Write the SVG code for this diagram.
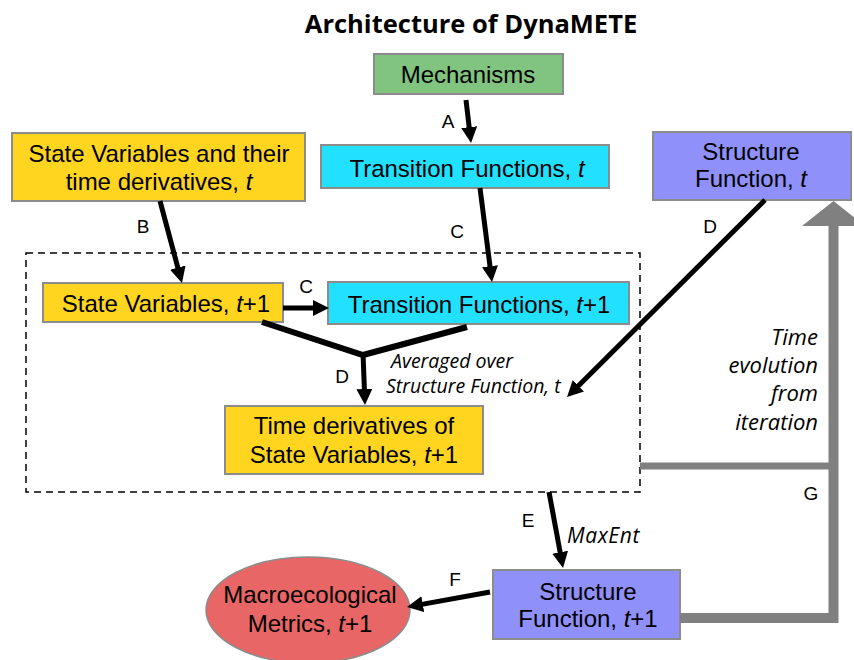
<svg xmlns="http://www.w3.org/2000/svg" width="854" height="660" viewBox="0 0 854 660">
<style>
.box{stroke:#8c8c8c;stroke-width:2}
.nt{font-family:"Liberation Sans",Arial,sans-serif;font-size:24px;fill:#000;text-anchor:middle}
.lbl{font-family:"Liberation Sans",Arial,sans-serif;font-size:19px;fill:#000;text-anchor:middle}
.ann{font-family:"Open Sans",sans-serif;font-style:italic;fill:#000}
.i{font-style:italic}
.arr{stroke:#000;stroke-width:5;fill:none;marker-end:url(#ah)}
.gray{stroke:#808080;fill:none}
</style>
<defs>
<marker id="ah" viewBox="0 0 10 10" refX="5" refY="5" markerWidth="16" markerHeight="16" markerUnits="userSpaceOnUse" orient="auto">
<path d="M0,0 L10,5 L0,10 z" fill="#000"/>
</marker>
</defs>
<rect width="854" height="660" fill="#fff"/>
<text x="471" y="33" font-family="'Open Sans',sans-serif" font-weight="bold" font-size="25.5" text-anchor="middle">Architecture of DynaMETE</text>

<g id="dashed-box">
<rect x="26" y="253" width="614" height="239" fill="none" stroke="#000" stroke-width="1.5" stroke-dasharray="7,5"/>
</g>

<g id="mechanisms">
<rect class="box" x="374" y="54" width="189" height="40" fill="#80c480"/>
<text class="nt" x="468" y="83" font-size="22">Mechanisms</text>
</g>
<g id="transition-t">
<rect class="box" x="321" y="145" width="288" height="43" fill="#22e0ff"/>
<text class="nt" x="467" y="177">Transition Functions, <tspan class="i">t</tspan></text>
</g>
<g id="state-t">
<rect class="box" x="12" y="133" width="293" height="68" fill="#ffd520"/>
<text class="nt" x="159" y="162">State Variables and their</text>
<text class="nt" x="159" y="190">time derivatives, <tspan class="i">t</tspan></text>
</g>
<g id="structure-t">
<rect class="box" x="653" y="132" width="198" height="68" fill="#9090fa"/>
<text class="nt" x="751" y="160">Structure</text>
<text class="nt" x="751" y="187">Function, <tspan class="i">t</tspan></text>
</g>
<g id="state-t1">
<rect class="box" x="43" y="283" width="240" height="39" fill="#ffd520"/>
<text class="nt" x="166" y="312">State Variables, <tspan class="i">t</tspan>+1</text>
</g>
<g id="transition-t1">
<rect class="box" x="328" y="282" width="301" height="42" fill="#22e0ff"/>
<text class="nt" x="479" y="313">Transition Functions, <tspan class="i">t</tspan>+1</text>
</g>
<g id="timederiv-t1">
<rect class="box" x="225" y="406" width="258" height="68" fill="#ffd520"/>
<text class="nt" x="354" y="434">Time derivatives of</text>
<text class="nt" x="354" y="463">State Variables, <tspan class="i">t</tspan>+1</text>
</g>
<g id="structure-t1">
<rect class="box" x="493" y="570" width="187" height="69" fill="#9090fa"/>
<text class="nt" x="588" y="600">Structure</text>
<text class="nt" x="588" y="627">Function, <tspan class="i">t</tspan>+1</text>
</g>
<g id="metrics">
<ellipse cx="308" cy="610" rx="102" ry="53" fill="#e86666" stroke="#8c8c8c" stroke-width="1.5"/>
<text class="nt" x="310" y="603" font-size="22">Macroecological</text>
<text class="nt" x="310" y="632" font-size="22">Metrics, <tspan class="i">t</tspan>+1</text>
</g>

<g id="connectors">
<line class="arr" x1="466" y1="100" x2="470.1" y2="135.1"/>
<line class="arr" x1="160" y1="201" x2="179.9" y2="275.3"/>
<line class="arr" x1="480" y1="188" x2="491" y2="274.1"/>
<line class="arr" x1="283" y1="308" x2="321" y2="308"/>
<line class="arr" x1="765" y1="200" x2="572.7" y2="391.4"/>
<polyline points="262,322 363,355 467,327" fill="none" stroke="#000" stroke-width="6" stroke-linejoin="miter"/>
<line class="arr" x1="363" y1="353" x2="364.7" y2="397"/>
<line class="arr" x1="549" y1="492" x2="561.6" y2="560.1"/>
<line class="arr" x1="490" y1="592" x2="414.9" y2="605.6"/>
<path class="gray" d="M680,618 H833.5 V224" stroke-width="10"/>
<path class="gray" d="M640,466 H829" stroke-width="7"/>
<polygon points="802,226 833.5,201 865,226" fill="#808080"/>
<text class="lbl" x="448" y="128">A</text>
<text class="lbl" x="143" y="233">B</text>
<text class="lbl" x="457" y="238">C</text>
<text class="lbl" x="306" y="293">C</text>
<text class="lbl" x="710" y="233">D</text>
<text class="lbl" x="342" y="383">D</text>
<text class="lbl" x="528" y="527">E</text>
<text class="lbl" x="455" y="586">F</text>
<text class="lbl" x="811" y="500">G</text>
<text class="ann" x="391" y="368" font-size="19.5">Averaged over</text>
<text class="ann" x="386" y="393" font-size="19.5">Structure Function, t</text>
<text class="ann" x="567" y="543" font-size="21" letter-spacing="0.6">MaxEnt</text>
<g class="ann" font-size="22" text-anchor="end">
<text x="818" y="345">Time</text>
<text x="818" y="373">evolution</text>
<text x="818" y="401">from</text>
<text x="818" y="430">iteration</text>
</g>
</g>
</svg>
